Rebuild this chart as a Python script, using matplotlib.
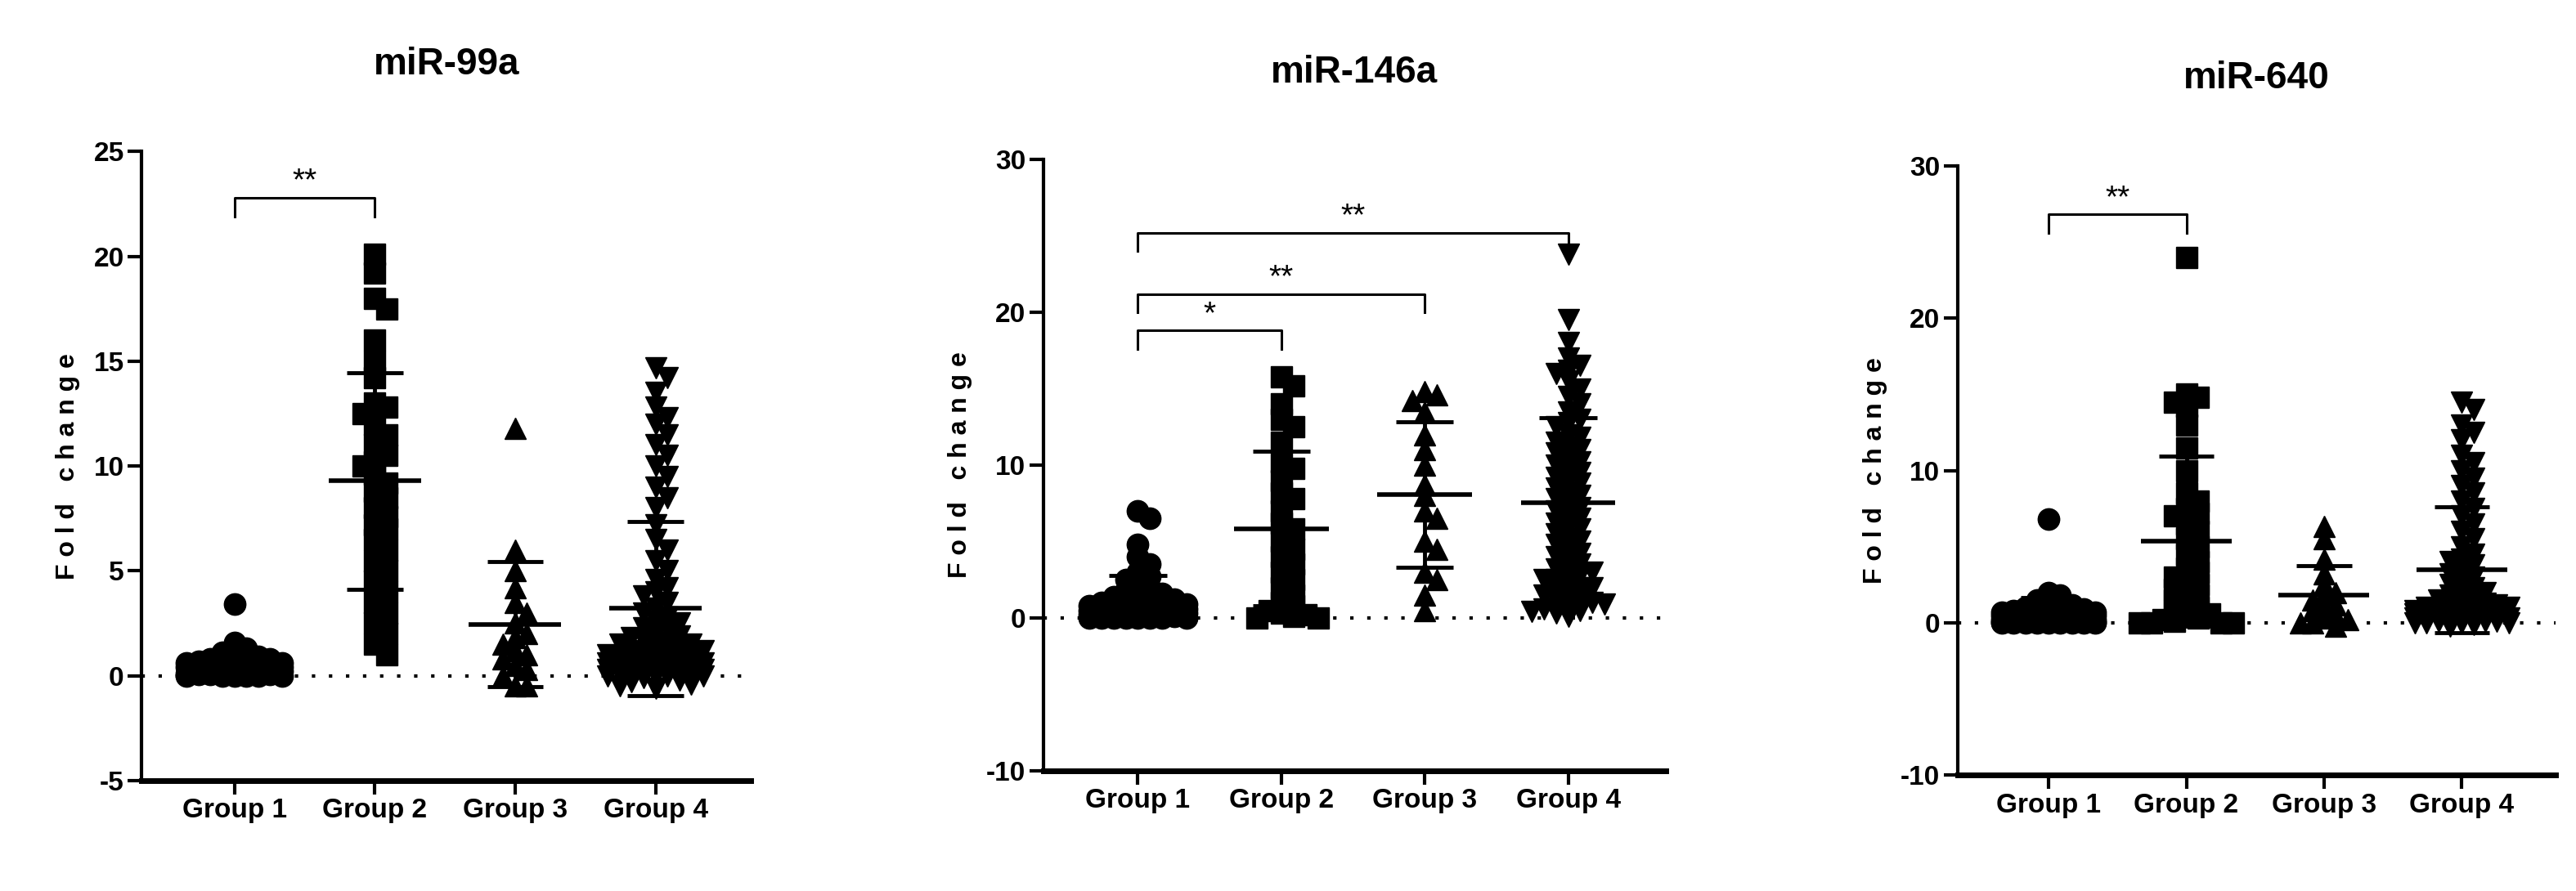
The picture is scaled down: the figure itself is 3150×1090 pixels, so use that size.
import matplotlib
matplotlib.use("Agg")
import matplotlib.pyplot as plt
import numpy as np

plt.rcParams['font.family'] = ['Liberation Sans', 'DejaVu Sans']

groups = ["Group 1", "Group 2", "Group 3", "Group 4"]
titles = ["miR-99a", "miR-146a", "miR-640"]

p1_g1 = [3.4,1.6,1.3,1.1,1.0,0.9,0.8,0.8,0.7,0.7,0.6,0.6,0.5,0.5,0.5,0.4,0.4,0.4,0.3,0.3,0.3,0.3,0.2,0.2,0.2,0.2,0.1,0.1,0.1,0.1,0.1,0.05,0.05,0.05,0,0,0,0,0,0]
p1_g2 = [20.1,19.2,18.0,17.5,16.0,15.0,14.2,13.0,12.8,12.5,12.0,11.5,11.0,10.5,10.2,10.0,9.6,9.2,8.8,8.5,8.0,7.6,7.2,7.0,6.5,6.0,5.5,5.0,4.5,4.0,3.5,3.0,2.5,2.0,1.5,1.0]
p1_g3 = [11.8,6.0,5.0,4.2,3.5,3.0,2.5,2.0,1.8,1.5,1.2,1.0,0.8,0.5,0.3,0.0,-0.5,-0.5]
p1_g4 = [14.7,14.2,13.5,12.8,12.3,12.0,11.5,11.0,10.5,10.0,9.5,9.0,8.5,8.0,7.2,6.5,6.0,5.5,5.0,4.6,4.2,4.0,3.8,3.5,3.2,3.0,2.8,2.6,2.5,2.3,2.2,2.0,1.9,1.8,1.7,1.6,1.5,1.4,1.3,1.2,1.1,1.0,1.0,0.9,0.9,0.8,0.8,0.7,0.7,0.6,0.6,0.5,0.5,0.4,0.4,0.3,0.3,0.2,0.2,0.1,0.1,0.0,0.0,0.0,-0.1,-0.2,-0.3,-0.4,-0.5,-0.6,0.5,0.4,0.3,0.2,0.1,0.0,0.8,0.6,1.2,1.5]

p2_g1 = [7.0,6.5,4.8,4.0,3.5,3.0,2.7,2.5,2.2,2.0,1.8,1.6,1.5,1.4,1.3,1.2,1.1,1.0,0.9,0.9,0.8,0.8,0.7,0.7,0.6,0.6,0.5,0.5,0.5,0.4,0.4,0.4,0.3,0.3,0.3,0.2,0.2,0.2,0.1,0.1,0.1,0.1,0,0,0,0,0,0,0,0]
p2_g2 = [15.8,15.2,14.0,13.0,12.5,11.5,10.2,9.8,9.0,8.2,7.8,7.0,6.2,5.8,5.0,4.5,4.0,3.5,3.0,2.5,2.0,1.5,1.0,0.8,0.5,0.3,0.2,0.1,0,0]
p2_g3 = [14.8,14.6,14.2,13.5,12.0,11.0,10.0,8.7,8.0,7.0,6.5,5.0,4.5,3.0,2.5,1.5,0.5]
p2_g4 = [23.8,19.5,18.0,17.0,16.5,16.2,16.0,15.5,15.0,14.5,14.0,13.5,13.0,12.8,12.5,12.0,11.8,11.5,11.2,11.0,10.8,10.5,10.2,10.0,9.8,9.5,9.2,9.0,8.8,8.5,8.2,8.0,7.8,7.5,7.2,7.0,6.8,6.5,6.2,6.0,5.8,5.5,5.2,5.0,4.8,4.5,4.2,4.0,3.8,3.5,3.2,3.0,2.8,2.5,2.2,2.0,1.8,1.5,1.2,1.0,0.8,0.5,0.3,0.1,0.6,1.0,1.5,2.0,2.5,3.0,0.4,0.9]

p3_g1 = [6.8,2.0,1.8,1.5,1.3,1.2,1.0,1.0,0.9,0.8,0.8,0.7,0.7,0.6,0.6,0.5,0.5,0.5,0.4,0.4,0.4,0.3,0.3,0.3,0.3,0.2,0.2,0.2,0.2,0.1,0.1,0.1,0.1,0.1,0.05,0.05,0,0,0,0,0,0,0,0,0]
p3_g2 = [24.0,15.0,14.8,14.5,14.2,13.0,11.5,10.0,8.5,8.0,7.5,7.2,7.0,6.5,6.0,5.5,5.0,4.5,4.0,3.6,3.3,3.0,2.8,2.5,2.2,2.0,1.8,1.5,1.2,1.0,0.8,0.6,0.4,0.3,0.2,0.1,0,0,0,0]
p3_g3 = [6.3,5.5,4.2,3.2,2.5,2.0,1.8,1.5,1.2,1.0,0.8,0.5,0.3,0.2,0,0,-0.2]
p3_g4 = [14.5,14.0,13.0,12.5,12.0,11.0,10.5,10.0,9.5,9.0,8.5,8.0,7.5,7.0,6.5,6.0,5.5,5.0,4.5,4.2,4.0,3.8,3.5,3.2,3.0,2.8,2.5,2.3,2.1,2.0,1.8,1.6,1.5,1.4,1.2,1.1,1.0,0.9,0.8,0.7,0.6,0.5,0.5,0.4,0.4,0.3,0.3,0.2,0.2,0.1,0.1,0,0,0,-0.1,-0.2,0.5,0.3,0.2,0.1,0.0,0.8,1.0,1.3,0.6,0.4]

panels_data = [[p1_g1, p1_g2, p1_g3, p1_g4],
               [p2_g1, p2_g2, p2_g3, p2_g4],
               [p3_g1, p3_g2, p3_g3, p3_g4]]
ylims = [(-5, 25), (-10, 30), (-10, 30)]
yticks = [[-5, 0, 5, 10, 15, 20, 25], [-10, 0, 10, 20, 30], [-10, 0, 10, 20, 30]]
sig1 = [(0, 1, 22.8, "**")]
sig2 = [(0, 1, 18.8, "*"), (0, 2, 21.2, "**"), (0, 3, 25.2, "**")]
sig3 = [(0, 1, 26.8, "**")]
sigs = [sig1, sig2, sig3]

rects = [[0.055, 0.124, 0.2365, 0.706],
         [0.405, 0.135, 0.2416, 0.686],
         [0.760, 0.130, 0.232, 0.684]]
markers = ['o', 's', '^', 'v']

def swarm(vals, dx, dy, maxoff=0.40):
    order = np.argsort(-np.asarray(vals))
    placed = []
    offs = np.zeros(len(vals))
    for i in order:
        y = vals[i]
        cands = [0.0]
        k = 1
        while k * dx <= maxoff:
            cands += [k * dx, -k * dx]
            k += 1
        chosen = None
        for c in cands:
            ok = True
            for (px, py) in placed:
                if ((c - px) / dx) ** 2 + ((y - py) / dy) ** 2 < 1.0:
                    ok = False
                    break
            if ok:
                chosen = c
                break
        if chosen is None:
            chosen = cands[len(placed) % len(cands)]
        placed.append((chosen, y))
        offs[i] = chosen
    return offs

fig = plt.figure(figsize=(31.5, 10.9), dpi=100)
for p in range(3):
    ax = fig.add_axes(rects[p])
    ymin, ymax = ylims[p]
    ax.set_xlim(-0.66, 3.68)
    ax.set_ylim(ymin, ymax)
    h_px = rects[p][3] * 1090
    dy = 13 / (h_px / (ymax - ymin))
    for g in range(4):
        vals = np.array(panels_data[p][g], dtype=float)
        offs = swarm(vals, 0.085, dy)
        ax.plot(g + offs, vals, linestyle='none', marker=markers[g], ms=19,
                color='black', mec='black', zorder=3)
        m = vals.mean(); s = vals.std(ddof=1)
        ax.hlines(m, g - 0.33, g + 0.33, color='black', lw=4, zorder=4)
        ax.hlines([m - s, m + s], g - 0.2, g + 0.2, color='black', lw=3.5, zorder=4)
        ax.vlines(g, m - s, m + s, color='black', lw=3.5, zorder=4)
    ax.axhline(0, color='black', ls=(0, (1, 4)), lw=3, zorder=1)
    rng = ymax - ymin
    for a, b, yl, lab in sigs[p]:
        ax.plot([a, a, b, b], [yl - 0.03 * rng, yl, yl, yl - 0.03 * rng],
                color='black', lw=2.2)
        ax.text((a + b) / 2, yl + 0.002 * rng, lab, ha='center', va='bottom',
                fontsize=28)
    ax.spines['top'].set_visible(False)
    ax.spines['right'].set_visible(False)
    ax.spines['left'].set_linewidth(3)
    ax.spines['bottom'].set_linewidth(5)
    ax.set_xticks(range(4))
    ax.set_xticklabels(groups, fontsize=24, fontweight='bold')
    ax.set_yticks(yticks[p])
    ax.set_yticklabels([str(t) for t in yticks[p]], fontsize=24, fontweight='bold')
    ax.tick_params(axis='both', width=3, length=12, direction='out')
    ax.set_ylabel("F o l d   c h a n g e", fontsize=23, fontweight='bold', labelpad=12)
    ax.set_title(titles[p], fontsize=33, fontweight='bold', pad=68)

fig.savefig("out.png", dpi=100, facecolor='white')
